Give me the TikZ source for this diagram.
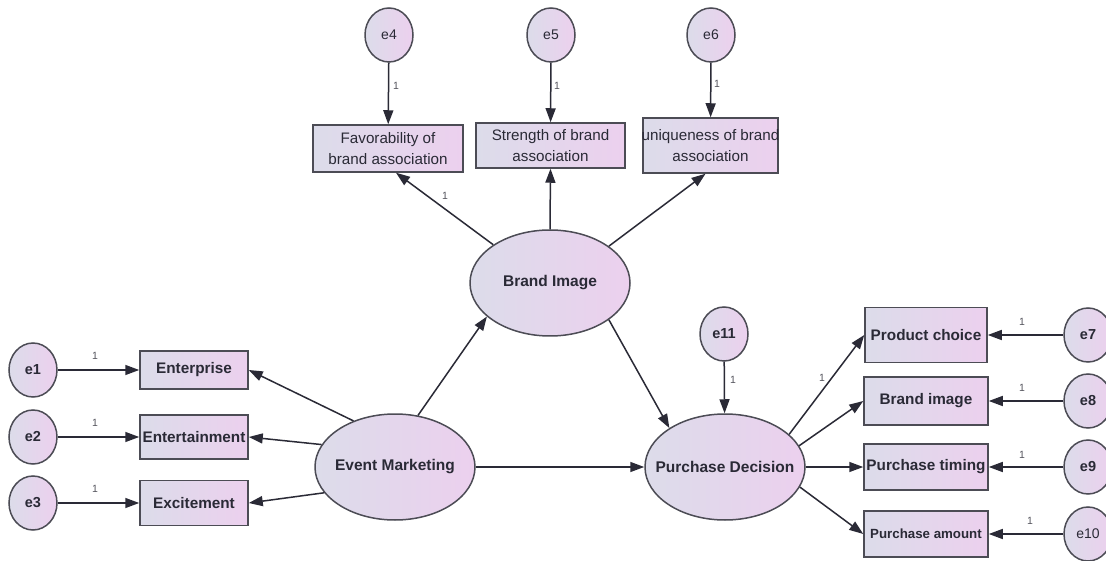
\documentclass[tikz,border=0pt]{standalone}
\usepackage{fontspec}
\setmainfont{Liberation Sans}
\usetikzlibrary{shapes.geometric,arrows.meta}
\definecolor{fillL}{HTML}{DCDCEA}
\definecolor{fillR}{HTML}{ECD0EE}
\definecolor{edgec}{HTML}{4C4C55}
\definecolor{ink}{HTML}{2A2A36}
\begin{document}
\begin{tikzpicture}[x=1pt,y=-1pt,
  shaded/.style={draw=edgec, line width=1.5pt, left color=fillL, right color=fillR, inner sep=0pt, text=ink},
  obsbox/.style={shaded, rectangle, font=\bfseries\fontsize{15.3}{17}\selectfont},
  topbox/.style={shaded, rectangle, align=center, font=\fontsize{15.2}{20.5}\selectfont},
  latent/.style={shaded, ellipse, minimum width=160pt, minimum height=106pt, font=\bfseries\fontsize{15.5}{18}\selectfont},
  errc/.style={shaded, ellipse, minimum width=48pt, minimum height=54pt, font=\bfseries\fontsize{14.5}{16}\selectfont},
  errtop/.style={errc, font=\fontsize{14}{16}\selectfont},
  conn/.style={draw=ink, line width=1.5pt, -{Triangle[length=14pt,width=10pt]}},
  one/.style={font=\fontsize{10.5}{12}\selectfont, text=ink!80, inner sep=0pt}
]
\useasboundingbox (0,0) rectangle (1106,561);
\fill[white] (0,0) rectangle (1106,561);

% top error terms
\node[errtop] (e4) at (389,35) {\makebox[0pt]{e4}};
\node[errtop] (e5) at (551,35) {\makebox[0pt]{e5}};
\node[errtop] (e6) at (711,35) {\makebox[0pt]{e6}};

% top indicators
\node[topbox, minimum width=150pt, minimum height=47pt] (fav) at (388,148.5) {Favorability of\\brand association};
\node[topbox, minimum width=149pt, minimum height=45pt] (str) at (550.5,145.5) {Strength of brand\\association};
\node[topbox, minimum width=135pt, minimum height=55pt] (uniq) at (710.5,145.5) {\makebox[0pt]{uniqueness of brand}\\association};

% latent variables
\node[latent] (bi) at (550,283) {\makebox[0pt]{Brand Image}};
\node[latent] (em) at (395,467) {\makebox[0pt]{Event Marketing}};
\node[latent] (pd) at (725,467) {\makebox[0pt]{Purchase Decision}};
\node[errc] (e11) at (724,334) {\makebox[0pt]{e11}};

% left side
\node[errc] (e1) at (33,370) {\makebox[0pt]{e1}};
\node[errc] (e2) at (33,437) {\makebox[0pt]{e2}};
\node[errc] (e3) at (33,503) {\makebox[0pt]{e3}};
\node[obsbox, minimum width=108pt, minimum height=38pt] (ent) at (194,370) {Enterprise};
\node[obsbox, minimum width=108pt, minimum height=44pt] (entm) at (194,437) {Entertainment};
\node[obsbox, minimum width=108pt, minimum height=45pt] (exc) at (194,503) {Excitement};

% right side
\node[obsbox, minimum width=122pt, minimum height=55pt] (pc) at (926,335) {Product choice};
\node[obsbox, minimum width=124pt, minimum height=48pt] (bim) at (926,401) {Brand image};
\node[obsbox, minimum width=124pt, minimum height=46pt] (pt) at (926,467) {\makebox[0pt]{Purchase timing}};
\node[obsbox, minimum width=124pt, minimum height=46pt, font=\bfseries\fontsize{13.3}{15}\selectfont] (pa) at (926,534) {Purchase amount};
\node[errc] (e7) at (1088,335) {\makebox[0pt]{e7}};
\node[errc] (e8) at (1088,401) {\makebox[0pt]{e8}};
\node[errc] (e9) at (1088,467) {\makebox[0pt]{e9}};
\node[errc, font=\fontsize{14}{16}\selectfont] (e10) at (1088,534) {\makebox[0pt]{e10}};

% connectors
\draw[conn] (e1) -- (ent);
\draw[conn] (e2) -- (entm);
\draw[conn] (e3) -- (exc);
\draw[conn] (em.132) -- (ent.east);
\draw[conn] (em.163) -- (entm.east);
\draw[conn] (em.200) -- (exc.east);
\draw[conn] (em.66) -- (bi.208);
\draw[conn] (em) -- (pd);
\draw[conn] (e4) -- (fav);
\draw[conn] (e5) -- (str);
\draw[conn] (e6) -- (uniq);
\draw[conn] (bi.146) -- ([xshift=8pt]fav.south);
\draw[conn] (bi.north) -- (str.south);
\draw[conn] (bi.32) -- ([xshift=-5pt]uniq.south);
\draw[conn] (bi.-32) -- (pd.145);
\draw[conn] (e11) -- (pd);
\draw[conn] (pd.27) -- (pc.west);
\draw[conn] (pd.16) -- (bim.west);
\draw[conn] (pd) -- (pt);
\draw[conn] (pd.-15) -- (pa.west);
\draw[conn] (e7) -- (pc);
\draw[conn] (e8) -- (bim);
\draw[conn] (e9) -- (pt);
\draw[conn] (e10) -- (pa);

% regression weight labels
\node[one] (l1) at (95,356) {1};
\node[one] (l2) at (95,423) {1};
\node[one] (l3) at (95,489) {1};
\node[one] (l4) at (396,86) {1};
\node[one] (l5) at (557,86) {1};
\node[one] (l6) at (717,84) {1};
\node[one] (lf) at (445,196) {1};
\node[one] (l11) at (733,380) {1};
\node[one] (lpc) at (822,378) {1};
\node[one] (l7) at (1022,322) {1};
\node[one] (l8) at (1022,388) {1};
\node[one] (l9) at (1022,455) {1};
\node[one] (l10) at (1030,521) {1};
\end{tikzpicture}
\end{document}
